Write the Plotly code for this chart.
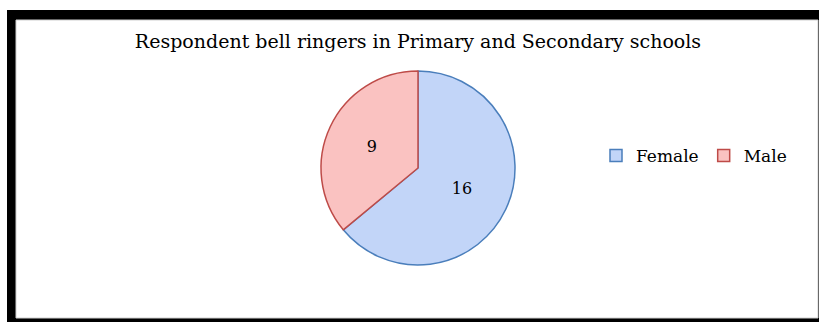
import plotly.graph_objects as go

# Data
labels = ["Female", "Male"]
values = [16, 9]
title_text = "Respondent bell ringers in Primary and Secondary schools"

W, H = 819, 322
fill_colors = ["#c2d5f8", "#fac2c1"]
line_colors = ["#4a7ebb", "#be4b48"]
serif = "DejaVu Serif, Liberation Serif, serif"

cx, cy, r = 418, 168, 97
fig = go.Figure(go.Pie(
    labels=labels,
    values=values,
    sort=False,
    direction="clockwise",
    rotation=0,
    textinfo="value",
    textposition="inside",
    insidetextorientation="horizontal",
    textfont=dict(family=serif, size=16, color="black"),
    marker=dict(colors=fill_colors, line=dict(color=line_colors, width=1.5)),
    domain=dict(x=[(cx - r) / W, (cx + r) / W], y=[(H - cy - r) / H, (H - cy + r) / H]),
    showlegend=True,
    hoverinfo="label+value",
))

fig.update_layout(
    width=W, height=H,
    margin=dict(l=0, r=0, t=0, b=0),
    paper_bgcolor="white",
    plot_bgcolor="white",
    title=dict(text=title_text, x=418 / W, xanchor="center", y=1 - 41 / H, yanchor="middle",
               xref="paper", yref="paper",
               font=dict(family=serif, size=19, color="black")),
    legend=dict(orientation="h", x=596 / W, xanchor="left", y=1 - 156 / H, yanchor="middle",
                font=dict(family=serif, size=17, color="black"),
                itemwidth=30, traceorder="normal", bgcolor="rgba(0,0,0,0)"),
    shapes=[
        dict(type="rect", xref="paper", yref="paper", x0=7 / W, x1=1.05, y0=-0.05, y1=1 - 10 / H,
             fillcolor="black", line=dict(width=0), layer="below"),
        dict(type="rect", xref="paper", yref="paper", x0=16 / W, x1=818 / W, y0=(H - 318) / H, y1=(H - 20) / H,
             fillcolor="white", line=dict(color="#d0d0d0", width=1), layer="below"),
    ],
)

fig.write_html(
    "out.html",
    config={"displayModeBar": False},
    post_script="document.body.style.margin='0';document.body.style.padding='0';document.body.style.overflow='hidden';",
)
